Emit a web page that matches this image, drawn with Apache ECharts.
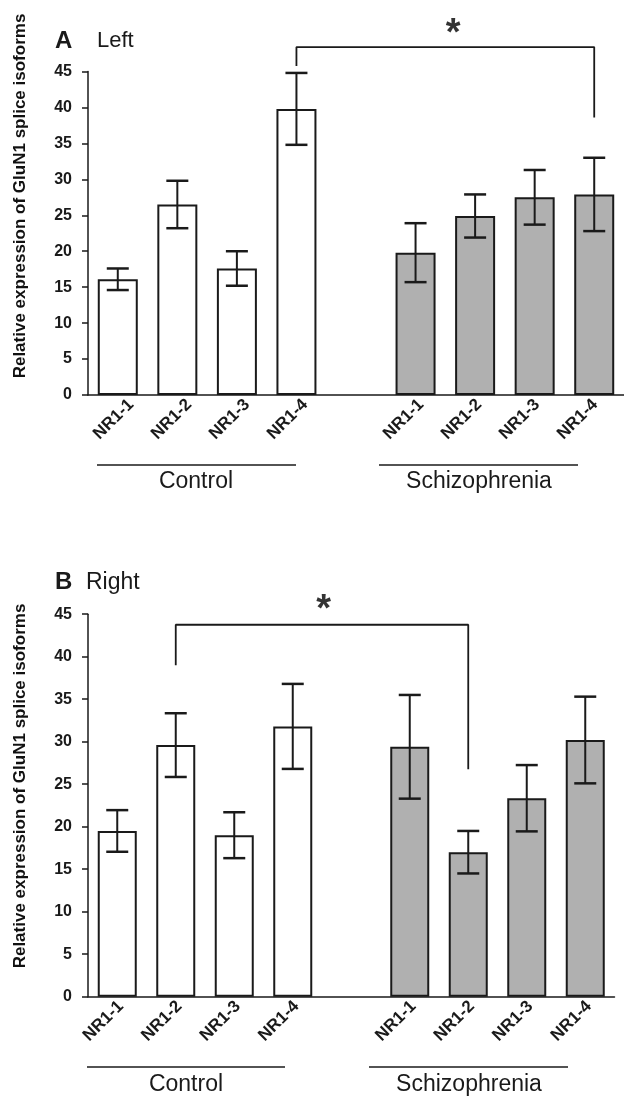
<!DOCTYPE html>
<html><head><meta charset="utf-8">
<script src="https://cdn.jsdelivr.net/npm/echarts@6/dist/echarts.min.js"></script>
<style>html,body{margin:0;padding:0;background:#fff}#c{width:624px;height:1098px}</style>
</head><body><div id="c"></div>
<script>
// ---- data ----
const categories = ['NR1-1', 'NR1-2', 'NR1-3', 'NR1-4', '', 'NR1-1', 'NR1-2', 'NR1-3', 'NR1-4'];
const leftControl = [16.1, 26.5, 17.6, 39.8];
const leftControlErr = [1.5, 3.3, 2.4, 5.0];
const leftSchiz = [19.8, 24.9, 27.5, 27.9];
const leftSchizErr = [4.1, 3.0, 3.8, 5.1];
const rightControl = [19.5, 29.6, 19.0, 31.8];
const rightControlErr = [2.45, 3.75, 2.7, 5.0];
const rightSchiz = [29.4, 17.0, 23.35, 30.2];
const rightSchizErr = [6.1, 2.5, 3.9, 5.1];
// significance brackets: [x index, value]
const leftBracket = [[3, 45.75], [3, 48.4], [8, 48.4], [8, 38.6]];
const leftStar = [5.63, 50.1];
const rightBracket = [[1, 39.0], [1, 43.76], [6, 43.76], [6, 26.75]];
const rightStar = [3.53, 45.45];
const groupNames = ['Control', 'Schizophrenia'];
const yTitle = 'Relative expression of GluN1 splice isoforms';

const FONT = '"Liberation Sans", Arial, Helvetica, sans-serif';
const INK = '#1a1a1a';
const GRAY = '#b0b0b0';

function ctrlData(a) { return a.concat([null, null, null, null, null]); }
function schizData(a) { return [null, null, null, null, null].concat(a); }
function errData(c, ce, s, se) {
  const out = [];
  c.forEach((v, i) => out.push([i, v, ce[i]]));
  s.forEach((v, i) => out.push([i + 5, v, se[i]]));
  return out;
}
function renderErr(params, api) {
  const x = api.value(0), v = api.value(1), e = api.value(2);
  const hi = api.coord([x, v + e]), lo = api.coord([x, v - e]);
  const cw = 11;
  const st = { stroke: INK, lineWidth: 2 };
  const cst = { stroke: INK, lineWidth: 2.5 };
  return { type: 'group', children: [
    { type: 'line', shape: { x1: hi[0], y1: hi[1], x2: lo[0], y2: lo[1] }, style: st },
    { type: 'line', shape: { x1: hi[0] - cw, y1: hi[1], x2: hi[0] + cw, y2: hi[1] }, style: cst },
    { type: 'line', shape: { x1: lo[0] - cw, y1: lo[1], x2: lo[0] + cw, y2: lo[1] }, style: cst }
  ]};
}

const yAxisCommon = {
  type: 'value', min: 0, max: 45, interval: 5,
  axisLine: { show: true, onZero: false, lineStyle: { color: INK, width: 1.5 } },
  axisTick: { show: true, length: 6, lineStyle: { color: INK, width: 1.5 } },
  axisLabel: { margin: 16, color: INK, fontSize: 16, fontWeight: 'bold', fontFamily: FONT },
  splitLine: { show: false }
};
const catLabel = { show: true, interval: 0, rotate: 45, margin: 7, color: INK, fontSize: 17, fontWeight: 'bold', fontFamily: FONT };
const hiddenCat = { axisLine: { show: false }, axisTick: { show: false }, axisLabel: catLabel };

const option = {
  animation: false,
  backgroundColor: '#fff',
  grid: [
    { left: 88, top: 71.5, width: 540, height: 323.5 },
    { left: 102, top: 71.5, width: 526.5, height: 323.5 },
    { left: 88, top: 614.2, width: 526.5, height: 382.5 },
    { left: 91.5, top: 614.2, width: 526.5, height: 382.5 }
  ],
  xAxis: [
    { type: 'category', gridIndex: 0, data: categories,
      axisLine: { onZero: false, lineStyle: { color: INK, width: 1.5 } }, axisTick: { show: false }, axisLabel: { show: false } },
    { type: 'value', gridIndex: 0, min: -0.5, max: 8.5, show: false },
    Object.assign({ type: 'category', gridIndex: 1, data: categories }, hiddenCat),
    { type: 'category', gridIndex: 2, data: categories,
      axisLine: { onZero: false, lineStyle: { color: INK, width: 1.5 } }, axisTick: { show: false }, axisLabel: { show: false } },
    { type: 'value', gridIndex: 2, min: -0.5, max: 8.5, show: false },
    Object.assign({ type: 'category', gridIndex: 3, data: categories }, hiddenCat)
  ],
  yAxis: [
    Object.assign({ gridIndex: 0 }, yAxisCommon),
    { type: 'value', gridIndex: 1, min: 0, max: 45, show: false },
    Object.assign({ gridIndex: 2 }, yAxisCommon),
    { type: 'value', gridIndex: 3, min: 0, max: 45, show: false }
  ],
  series: [
    { type: 'bar', name: groupNames[0], xAxisIndex: 0, yAxisIndex: 0, data: ctrlData(leftControl), barWidth: 40, barGap: '-100%',
      itemStyle: { color: '#fff', borderColor: INK, borderWidth: 2 } },
    { type: 'bar', name: groupNames[1], xAxisIndex: 0, yAxisIndex: 0, data: schizData(leftSchiz), barWidth: 40, barGap: '-100%',
      itemStyle: { color: GRAY, borderColor: INK, borderWidth: 2 } },
    { type: 'custom', xAxisIndex: 0, yAxisIndex: 0, data: errData(leftControl, leftControlErr, leftSchiz, leftSchizErr), renderItem: renderErr, z: 5 },
    { type: 'line', xAxisIndex: 1, yAxisIndex: 0, data: leftBracket, symbol: 'none', clip: false,
      lineStyle: { color: INK, width: 1.8 } },
    { type: 'scatter', xAxisIndex: 1, yAxisIndex: 0, data: [leftStar], symbolSize: 1, clip: false,
      itemStyle: { color: 'rgba(0,0,0,0)' },
      label: { show: true, position: 'inside', formatter: '*', fontSize: 38, fontWeight: 'bold', color: '#000', fontFamily: FONT } },

    { type: 'bar', name: groupNames[0], xAxisIndex: 3, yAxisIndex: 2, data: ctrlData(rightControl), barWidth: 39, barGap: '-100%',
      itemStyle: { color: '#fff', borderColor: INK, borderWidth: 2 } },
    { type: 'bar', name: groupNames[1], xAxisIndex: 3, yAxisIndex: 2, data: schizData(rightSchiz), barWidth: 39, barGap: '-100%',
      itemStyle: { color: GRAY, borderColor: INK, borderWidth: 2 } },
    { type: 'custom', xAxisIndex: 3, yAxisIndex: 2, data: errData(rightControl, rightControlErr, rightSchiz, rightSchizErr), renderItem: renderErr, z: 5 },
    { type: 'line', xAxisIndex: 4, yAxisIndex: 2, data: rightBracket, symbol: 'none', clip: false,
      lineStyle: { color: INK, width: 1.8 } },
    { type: 'scatter', xAxisIndex: 4, yAxisIndex: 2, data: [rightStar], symbolSize: 1, clip: false,
      itemStyle: { color: 'rgba(0,0,0,0)' },
      label: { show: true, position: 'inside', formatter: '*', fontSize: 38, fontWeight: 'bold', color: '#000', fontFamily: FONT } }
  ],
  graphic: [
    { type: 'text', left: 55, top: 29, style: { text: 'A', font: 'bold 24px ' + FONT, fill: INK } },
    { type: 'text', left: 97, top: 30, style: { text: 'Left', font: '22px ' + FONT, fill: INK } },
    { type: 'text', left: 55, top: 570, style: { text: 'B', font: 'bold 24px ' + FONT, fill: INK } },
    { type: 'text', left: 86, top: 571, style: { text: 'Right', font: '23px ' + FONT, fill: INK } },
    { type: 'text', x: 20, y: 196, rotation: Math.PI / 2,
      style: { text: yTitle, font: 'bold 17px ' + FONT, fill: '#111', align: 'center', verticalAlign: 'middle' } },
    { type: 'text', x: 20, y: 786, rotation: Math.PI / 2,
      style: { text: yTitle, font: 'bold 17px ' + FONT, fill: '#111', align: 'center', verticalAlign: 'middle' } },
    { type: 'line', shape: { x1: 97, y1: 465, x2: 296, y2: 465 }, style: { stroke: INK, lineWidth: 1.5 } },
    { type: 'line', shape: { x1: 379, y1: 465, x2: 578, y2: 465 }, style: { stroke: INK, lineWidth: 1.5 } },
    { type: 'text', x: 196, y: 482, style: { text: groupNames[0], font: '23px ' + FONT, fill: INK, align: 'center', verticalAlign: 'middle' } },
    { type: 'text', x: 479, y: 482, style: { text: groupNames[1], font: '23px ' + FONT, fill: INK, align: 'center', verticalAlign: 'middle' } },
    { type: 'line', shape: { x1: 87, y1: 1067, x2: 285, y2: 1067 }, style: { stroke: INK, lineWidth: 1.5 } },
    { type: 'line', shape: { x1: 369, y1: 1067, x2: 568, y2: 1067 }, style: { stroke: INK, lineWidth: 1.5 } },
    { type: 'text', x: 186, y: 1085, style: { text: groupNames[0], font: '23px ' + FONT, fill: INK, align: 'center', verticalAlign: 'middle' } },
    { type: 'text', x: 469, y: 1085, style: { text: groupNames[1], font: '23px ' + FONT, fill: INK, align: 'center', verticalAlign: 'middle' } }
  ]
};
const chart = echarts.init(document.getElementById('c'), null, { renderer: 'canvas' });
chart.setOption(option);
</script></body></html>
